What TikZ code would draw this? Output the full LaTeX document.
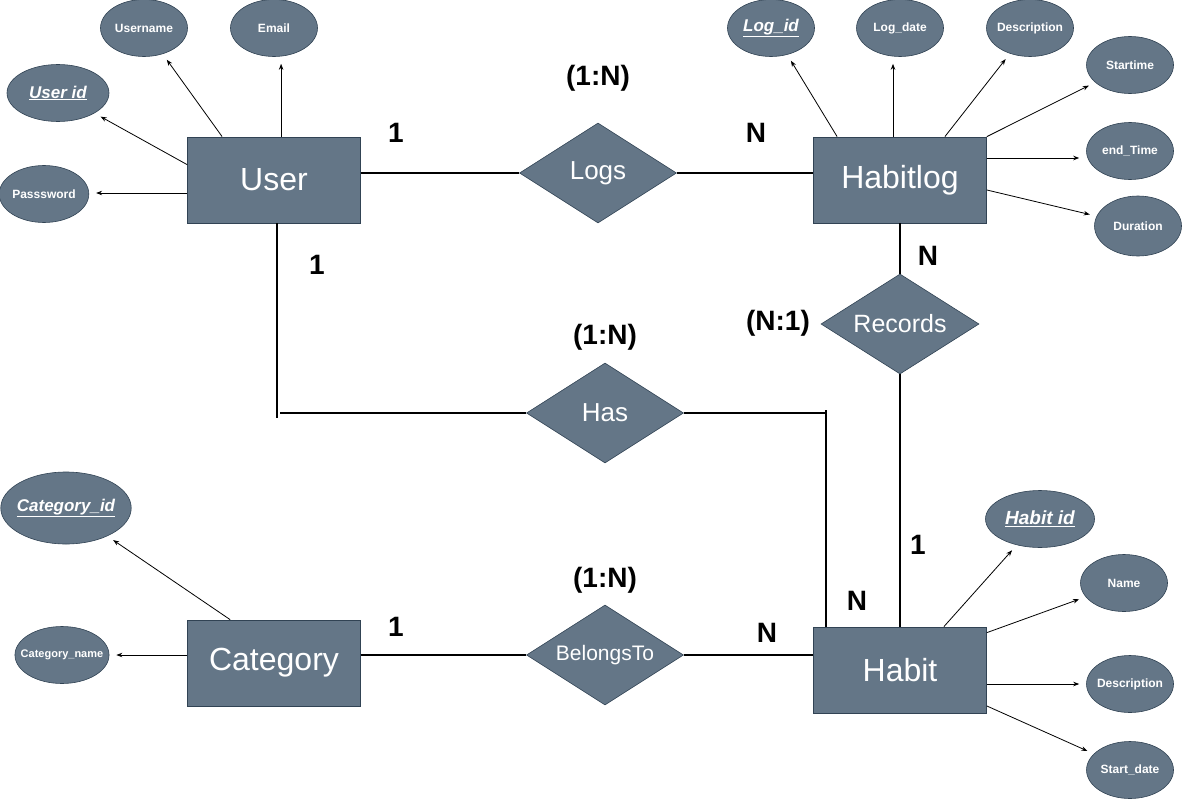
\documentclass[tikz,border=0pt]{standalone}
\usepackage{fontspec}
\setmainfont{Liberation Sans}
\usetikzlibrary{shapes.geometric,arrows.meta}
\definecolor{ent}{HTML}{647687}
\definecolor{entline}{HTML}{314354}
\begin{document}
\begin{tikzpicture}[x=1pt,y=-1pt,
 entity/.style={draw=entline,fill=ent,line width=0.8pt,minimum width=173pt,minimum height=86pt,inner sep=0pt,text=white,font=\fontsize{32}{36}\selectfont},
 rel/.style={diamond,draw=entline,fill=ent,line width=0.6pt,minimum width=157pt,minimum height=100pt,inner xsep=-14pt,inner ysep=-4pt,text=white,font=\fontsize{26}{30}\selectfont},
 attr/.style={ellipse,draw=entline,fill=ent,line width=0.6pt,minimum width=87pt,minimum height=57pt,inner sep=0pt,text=white,font=\bfseries\fontsize{12}{14}\selectfont},
 keyattr/.style={attr,font=\bfseries\itshape\fontsize{17}{20}\selectfont},
 conn/.style={line width=2.6pt,black},
 arr/.style={line width=0.8pt,-{Stealth[length=6pt,width=4.5pt]},shorten >=7pt},
 card/.style={font=\bfseries\fontsize{28}{32}\selectfont}]
\useasboundingbox (0,0) rectangle (1182,800);

% entities
\node[entity] (User) at (274,180) {User};
\node[entity] (Habitlog) at (900,180) {Habitlog};
\node[entity] (Category) at (274,663) {Category};
\node[entity] (Habit) at (900,670) {Habit};

% relationships
\node[rel] (Logs) at (598,173) {Logs};
\node[rel] (Has) at (605,413) {Has};
\node[rel,minimum width=158pt,font=\fontsize{25}{29}\selectfont] (Records) at (900,324) {Records};
\node[rel,font=\fontsize{21}{25}\selectfont] (Belongs) at (605,655) {BelongsTo};

% User attributes
\node[attr] (Username) at (144,28) {Username};
\node[attr] (Email) at (274,28) {Email};
\node[keyattr,minimum width=102pt] (UserId) at (58,93) {\underline{User id}};
\node[attr] (Password) at (44,194) {Passsword};

% Habitlog attributes
\node[keyattr] (LogId) at (771,28) {\underline{Log\_id}};
\node[attr] (LogDate) at (900,28) {Log\_date};
\node[attr,inner xsep=-3pt] (LDesc) at (1030,28) {Description};
\node[attr] (Startime) at (1130,65) {Startime};
\node[attr] (EndTime) at (1130,151) {end\_Time};
\node[attr,minimum height=60pt] (Duration) at (1138,226) {Duration};

% Habit attributes
\node[keyattr,minimum width=109pt,font=\bfseries\itshape\fontsize{19}{22}\selectfont] (HabitId) at (1040,519) {\underline{Habit id}};
\node[attr] (Name) at (1124,583) {Name};
\node[attr,inner xsep=-3pt] (HDesc) at (1130,684) {Description};
\node[attr] (StartDate) at (1130,770) {Start\_date};

% Category attributes
\node[keyattr,minimum width=127pt,minimum height=72pt,inner xsep=-3pt] (CatId) at (66,508) {\underline{Category\_id}};
\node[attr,minimum width=93pt,inner xsep=-8pt,font=\bfseries\fontsize{11}{13}\selectfont] (CatName) at (62,655) {Category\_name};

% attribute arrows
\draw[arr] ([xshift=35pt]User.north west) -- (Username);
\draw[arr] ([xshift=94pt]User.north west) -- ([xshift=94pt]User.north west |- Email.south);
\draw[arr] ([yshift=-28pt]User.north west) -- (UserId);
\draw[arr] ([yshift=-13pt]User.west) -- ([yshift=-13pt]User.west -| Password.east);

\draw[arr] ([xshift=24pt]Habitlog.north west) -- (LogId);
\draw[arr] ([xshift=-7pt]Habitlog.north) -- ([xshift=-7pt]Habitlog.north |- LogDate.south);
\draw[arr] ([xshift=-42pt]Habitlog.north east) -- (LDesc);
\draw[arr] (Habitlog.north east) -- (Startime);
\draw[arr] ([yshift=22pt]Habitlog.east) -- ([yshift=22pt]Habitlog.east -| EndTime.west);
\draw[arr] ([yshift=-10pt]Habitlog.east) -- (Duration);

\draw[arr] ([xshift=-43pt]Habit.north east) -- (HabitId);
\draw[arr] ([yshift=-6pt]Habit.north east) -- (Name);
\draw[arr] ([yshift=-14pt]Habit.east) -- ([yshift=-14pt]Habit.east -| HDesc.west);
\draw[arr] ([yshift=-36pt]Habit.east) -- (StartDate);

\draw[arr] ([xshift=43pt]Category.north west) -- (CatId);
\draw[arr] ([yshift=8pt]Category.west) -- ([yshift=8pt]Category.west -| CatName.east);

% relationship connectors
\draw[conn] (User.east |- Logs.west) -- (Logs.west);
\draw[conn] (Logs.east) -- (Logs.east -| Habitlog.west);
\coordinate (hasL) at (277,418);
\coordinate (hasR) at (826,413);
\draw[conn] (User.south -| hasL) -- (hasL);
\draw[conn] ([xshift=3pt]hasL |- Has.west) -- (Has.west);
\draw[conn] (Has.east) -- (hasR);
\draw[conn] ([yshift=3pt]hasR) -- (hasR |- Habit.north);
\draw[conn] (Habitlog.south) -- (Records.north);
\draw[conn] (Records.south) -- (Habit.north);
\draw[conn] (Category.east |- Belongs.west) -- (Belongs.west);
\draw[conn] (Belongs.east) -- (Belongs.east -| Habit.west);

% cardinalities
\node[card] (c1) at (598,78) {(1:N)};
\node[card] (c2) at (396,133) {1};
\node[card] (c3) at (756,133) {N};
\node[card] (c4) at (317,265) {1};
\node[card] (c5) at (605,337) {(1:N)};
\node[card] (c6) at (778,323) {(N:1)};
\node[card] (c7) at (928,256) {N};
\node[card] (c8) at (918,545) {1};
\node[card] (c9) at (857,601) {N};
\node[card] (c10) at (605,580) {(1:N)};
\node[card] (c11) at (396,627) {1};
\node[card] (c12) at (767,633) {N};
\end{tikzpicture}
\end{document}
